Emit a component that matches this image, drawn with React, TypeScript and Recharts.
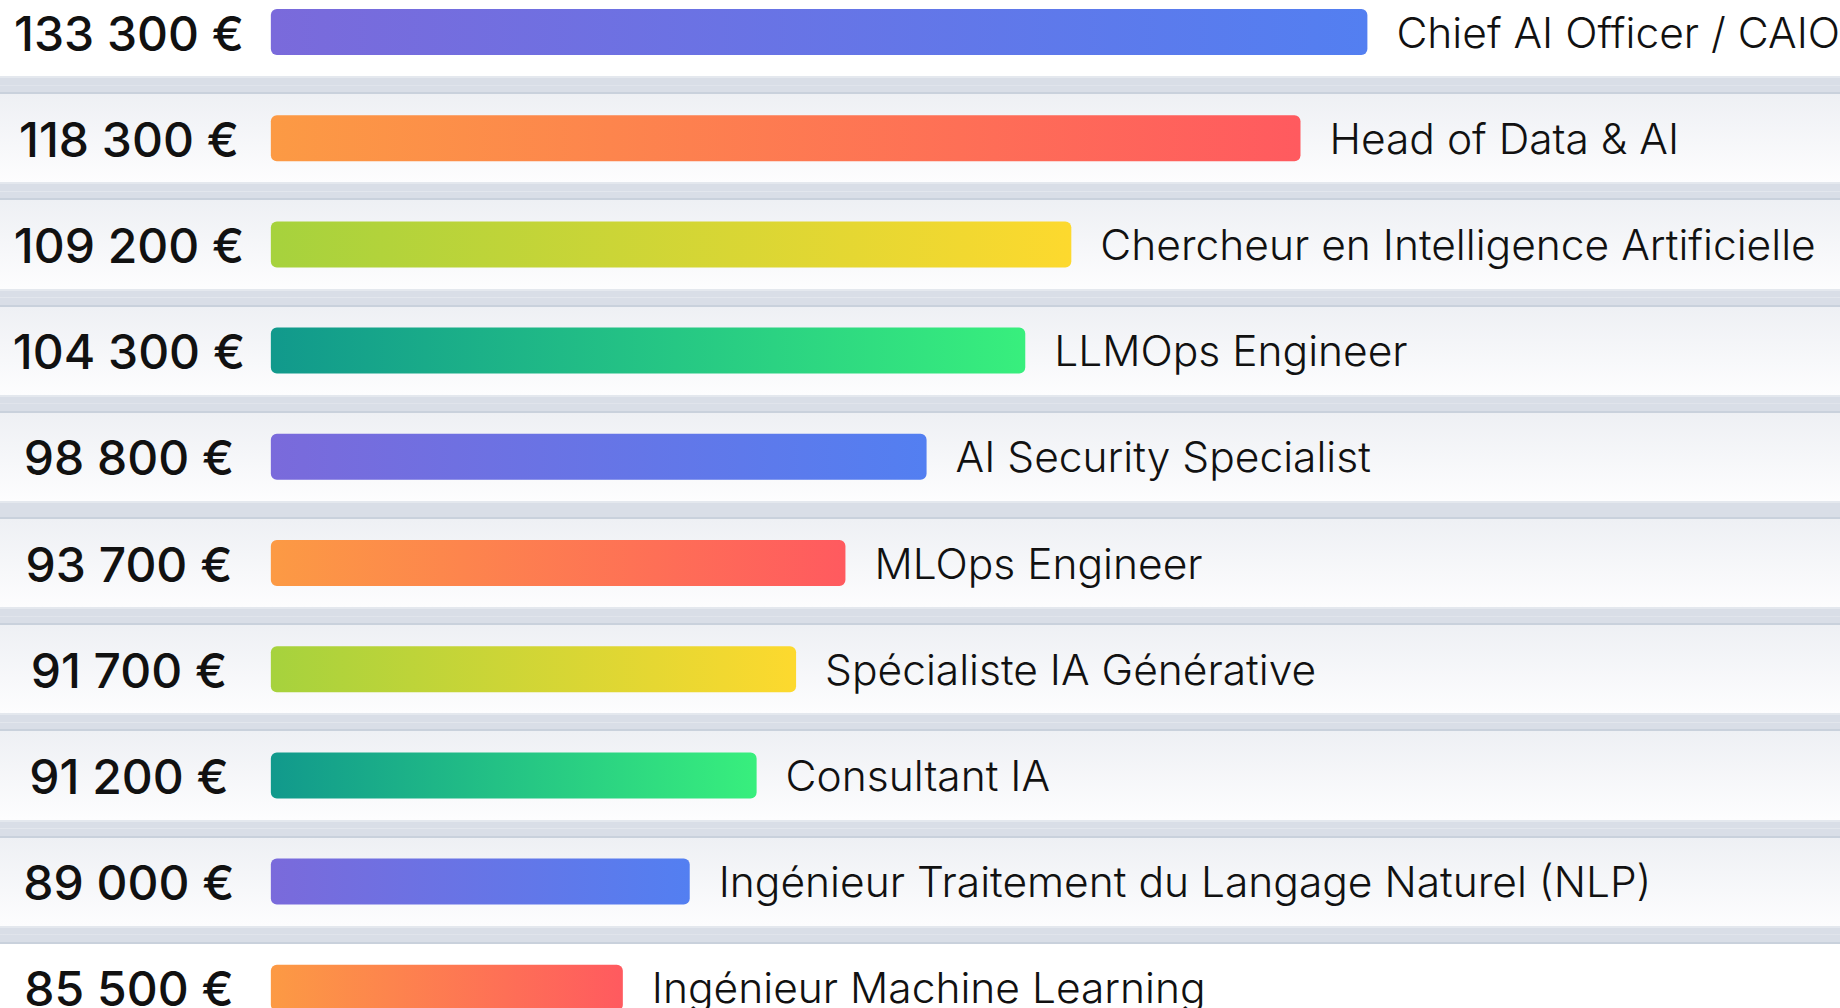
import React from 'react';
import { BarChart, Bar, XAxis, YAxis, Cell, LabelList, ReferenceArea } from 'recharts';

// ---- data ----
const roles = [
  'Chief AI Officer / CAIO',
  'Head of Data & AI',
  'Chercheur en Intelligence Artificielle',
  'LLMOps Engineer',
  'AI Security Specialist',
  'MLOps Engineer',
  'Spécialiste IA Générative',
  'Consultant IA',
  'Ingénieur Traitement du Langage Naturel (NLP)',
  'Ingénieur Machine Learning',
];
const salaries = [133300, 118300, 109200, 104300, 98800, 93700, 91700, 91200, 89000, 85500];
// bar length as drawn (percent of the longest bar)
const barScores = [100, 93.9, 73.0, 68.8, 59.8, 52.4, 47.9, 44.3, 38.2, 32.1];

const data = roles.map((role, i) => ({ role, salary: salaries[i], score: barScores[i] }));

// ---- styling ----
const W = 1840;
const BAND = 106.2;
const H = BAND * roles.length;
const X_DOMAIN: [number, number] = [-24.7, 143.1];
const GRADS = [
  ['#7a6adb', '#537ff1'],
  ['#fc9a44', '#ff5a5f'],
  ['#a6d23d', '#fdd92e'],
  ['#11998c', '#38ef7d'],
];
const FONT = 'Inter, "Noto Sans", sans-serif';

const fmt = (v: number) => `${Math.floor(v / 1000)} ${String(v % 1000).padStart(3, '0')} €`;

const ValueLabel = (props: any) => {
  const { y, height, value } = props;
  return (
    <text
      x={129}
      y={Number(y) + Number(height) / 2 + 1}
      textAnchor="middle"
      dominantBaseline="central"
      fontFamily={FONT}
      fontSize={48}
      fontWeight={500}
      fill="#111111"
    >
      {fmt(Number(value))}
    </text>
  );
};

const RoleLabel = (props: any) => {
  const { x, y, width, height, value } = props;
  return (
    <text
      x={Number(x) + Number(width) + 29}
      y={Number(y) + Number(height) / 2}
      textAnchor="start"
      dominantBaseline="central"
      fontFamily={FONT}
      fontSize={42.5}
      fontWeight={300}
      fill="#111111"
    >
      {value}
    </text>
  );
};

const sepStops = (mid1: string, mid2: string) => [
  <stop key="a" offset="0" stopColor="#d9dee7" />,
  <stop key="b" offset="0.066" stopColor="#d9dee7" />,
  <stop key="c" offset="0.066" stopColor="#c9d1dc" />,
  <stop key="d" offset="0.085" stopColor="#c9d1dc" />,
  <stop key="e" offset="0.085" stopColor={mid1} />,
  <stop key="f" offset="0.915" stopColor={mid2} />,
  <stop key="g" offset="0.915" stopColor="#e4e8ee" />,
  <stop key="h" offset="0.935" stopColor="#e4e8ee" />,
  <stop key="i" offset="0.935" stopColor="#d9dee7" />,
  <stop key="j" offset="1" stopColor="#d9dee7" />,
];

export default function App() {
  return (
    <div
      style={{
        position: 'fixed',
        left: 0,
        top: 0,
        width: W,
        height: 1008,
        overflow: 'hidden',
        background: '#ffffff',
      }}
    >
      <div style={{ position: 'absolute', left: 0, top: -21 }}>
        <BarChart
          width={W}
          height={H}
          data={data}
          layout="vertical"
          margin={{ top: 0, right: 0, bottom: 0, left: 0 }}
          barCategoryGap={0}
        >
          <defs>
            {GRADS.map((g, i) => (
              <linearGradient key={i} id={`barGrad${i}`} x1="0" y1="0" x2="1" y2="0">
                <stop offset="0" stopColor={g[0]} />
                <stop offset="1" stopColor={g[1]} />
              </linearGradient>
            ))}
            <linearGradient id="rowGrey" x1="0" y1="0" x2="0" y2="1">
              {sepStops('#eef0f4', '#fdfdfe')}
            </linearGradient>
            <linearGradient id="rowWhite" x1="0" y1="0" x2="0" y2="1">
              {sepStops('#ffffff', '#ffffff')}
            </linearGradient>
          </defs>
          <XAxis type="number" hide domain={X_DOMAIN} allowDataOverflow />
          <YAxis type="category" dataKey="role" hide width={0} />
          {roles.map((r, i) => (
            <ReferenceArea
              key={r}
              y1={r}
              y2={r}
              fill={i === 0 || i === roles.length - 1 ? 'url(#rowWhite)' : 'url(#rowGrey)'}
              fillOpacity={1}
              stroke="none"
              ifOverflow="visible"
            />
          ))}
          <Bar dataKey="score" barSize={46} radius={6} isAnimationActive={false}>
            {data.map((d, i) => (
              <Cell key={d.role} fill={`url(#barGrad${i % 4})`} />
            ))}
            <LabelList dataKey="salary" content={ValueLabel} />
            <LabelList dataKey="role" content={RoleLabel} />
          </Bar>
        </BarChart>
      </div>
    </div>
  );
}
